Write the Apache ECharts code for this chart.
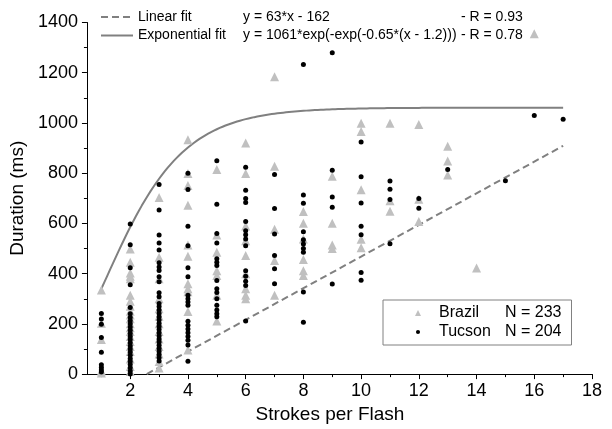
<!DOCTYPE html>
<html><head><meta charset="utf-8">
<script src="https://cdn.jsdelivr.net/npm/echarts@6/dist/echarts.min.js"></script>
<style>html,body{margin:0;padding:0;background:#fff}#c{width:612px;height:429px}</style>
</head><body><div id="c"></div>
<script>
// ---- data ----
const strokes = [1,2,3,4,5,6,7,8,9,10,11,12,13,14,15,16,17];
const brazilDur = [
  [335,202,138,12,4],
  [498,445,403,390,380,314,290,270,250,235,220,200,185,170,150,130,110,90,60,30,10],
  [703,465,380,300,260,230,200,170,140,110,80,50,24],
  [933,799,751,672,514,469,360,340,328,249,96],
  [815,554,485,412,393,314,211],
  [920,799,590,531,472,400,340,314,300],
  [1184,828,577,452,314],
  [647,601,538,456,412,393],
  [788,601,514,500],
  [999,966,734,537,503],
  [999,690,648],
  [994,696,608],
  [907,849,793],
  [422],
  [],
  [1355],
  []
];
const tucsonDur = [
  [241,219,198,146,87,37,26,16,8],
  [598,515,423,356,265,240,225,212,200,188,175,162,150,138,125,112,100,88,75,62,50,38,25,12,0],
  [755,653,554,522,494,443,426,413,388,368,324,308,281,269,255,241,228,215,202,190,178,165,152,140,128,115,102,90,78,65,52],
  [800,735,589,511,423,388,314,300,287,274,210,195,180,165,150,135,116,51],
  [850,676,560,522,459,445,432,373,340,325,300,274,255,240,228],
  [824,732,699,683,608,571,555,538,511,412,390,370,353,211],
  [795,659,558,472,419,360],
  [1233,713,680,567,535,518,500,485,327,206],
  [1280,812,705,664,359],
  [924,786,681,589,555,405,374],
  [769,736,695,519],
  [699,660],
  [815],
  [],
  [770],
  [1030],
  [1015]
];
const xTickLabels = [2,4,6,8,10,12,14,16,18];
const xMinorTicks = [1,3,5,7,9,11,13,15,17];
// fit parameters as printed on the chart
const linSlope = 63, linIntercept = -162, linR = 0.93;
const expA = 1061, expK = 0.65, expX0 = 1.2, expR = 0.78;
const fitXmax = 17;

// ---- build ----
function pairs(cols){const out=[];cols.forEach((c,i)=>c.forEach(v=>out.push([strokes[i],v])));return out;}
const brazilData = pairs(brazilDur);
const tucsonData = pairs(tucsonDur);
const linData = [[-linIntercept/linSlope,0],[fitXmax,linSlope*fitXmax+linIntercept]];
const expData = [];
for(let i=0;i<=160;i++){const x=1+i*0.1;expData.push([x,expA*Math.exp(-Math.exp(-expK*(x-expX0)))]);}

const FONT = "'Liberation Sans', Arial, sans-serif";
const smallDot = 'path://M0,0L0.001,0M10,10L10.001,10M8.4,5A3.4,3.4,0,1,1,1.6,5A3.4,3.4,0,1,1,8.4,5Z';
const chart = echarts.init(document.getElementById('c'), null, {renderer:'canvas'});
chart.setOption({
  animation:false,
  backgroundColor:'#fff',
  textStyle:{fontFamily:FONT},
  grid:{left:85,right:20,top:22.5,bottom:52.5},
  xAxis:[{
    type:'value',min:0.5,max:18,
    name:'Strokes per Flash',nameLocation:'middle',nameGap:25,
    nameTextStyle:{fontSize:19,color:'#000',fontFamily:FONT,padding:[0,19,0,0]},
    axisLine:{show:true,lineStyle:{color:'#000',width:1}},
    axisTick:{show:true,length:5,customValues:xTickLabels,lineStyle:{color:'#000'}},
    axisLabel:{customValues:xTickLabels,fontSize:18,color:'#000',margin:8,fontFamily:FONT},
    splitLine:{show:false}
  },{
    type:'value',min:0.5,max:18,position:'bottom',
    axisLine:{show:false},
    axisTick:{show:true,length:3,customValues:xMinorTicks,lineStyle:{color:'#000'}},
    axisLabel:{show:false},
    splitLine:{show:false}
  }],
  yAxis:{
    type:'value',min:0,max:1400,interval:200,
    name:'Duration (ms)',nameLocation:'middle',nameGap:57,
    nameTextStyle:{fontSize:19,color:'#000',fontFamily:FONT},
    axisLine:{show:true,lineStyle:{color:'#000',width:1}},
    axisTick:{show:true,length:5,lineStyle:{color:'#000'}},
    minorTick:{show:true,splitNumber:2,length:3,lineStyle:{color:'#000'}},
    axisLabel:{fontSize:18,color:'#000',margin:9,fontFamily:FONT,formatter:function(v){return String(v);}},
    splitLine:{show:false}
  },
  legend:[{
    data:['Linear fit','Exponential fit'],
    orient:'vertical',left:100,top:10,padding:0,
    itemWidth:32,itemHeight:14,itemGap:4.5,selectedMode:false,
    itemStyle:{opacity:0},
    textStyle:{fontSize:14,color:'#000',fontFamily:FONT,
      rich:{a:{width:105,fontSize:14,fontFamily:FONT},b:{width:218,fontSize:14,fontFamily:FONT},c:{fontSize:14,fontFamily:FONT}}},
    formatter:function(n){
      if(n==='Linear fit') return '{a|Linear fit}{b|y = '+linSlope+'*x - '+(-linIntercept)+'}{c|- R = '+linR.toFixed(2)+'}';
      return '{a|Exponential fit}{b|y = '+expA+'*exp(-exp(-'+expK+'*(x - '+expX0+')))}{c|- R = '+expR.toFixed(2)+'}';
    }
  },{
    data:[{name:'Brazil',icon:'triangle'},{name:'Tucson',icon:smallDot}],
    orient:'vertical',left:383,top:300,padding:[5,10,5,32],
    itemWidth:6,itemHeight:6,itemGap:3,selectedMode:false,
    borderColor:'#808080',borderWidth:1,
    textStyle:{fontSize:16,color:'#000',fontFamily:FONT,
      rich:{n:{width:66,padding:[0,0,0,13],fontSize:16,lineHeight:16,fontFamily:FONT},v:{fontSize:16,lineHeight:16,fontFamily:FONT}}},
    formatter:function(n){return '{n|'+n+'}{v|N = '+(n==='Brazil'?233:204)+'}';}
  }],
  series:[{
    name:'Linear fit',type:'line',data:linData,symbol:'none',z:1,
    lineStyle:{color:'#808080',width:2,type:[7,4]},itemStyle:{color:'#808080'}
  },{
    name:'Exponential fit',type:'line',data:expData,symbol:'none',z:1,
    lineStyle:{color:'#808080',width:2},itemStyle:{color:'#808080'}
  },{
    name:'Brazil',type:'scatter',data:brazilData,symbol:'triangle',symbolSize:9,z:2,
    itemStyle:{color:'#c0c0c0',opacity:1}
  },{
    name:'Tucson',type:'scatter',data:tucsonData,symbol:'circle',symbolSize:5,z:3,
    itemStyle:{color:'#000',opacity:1}
  }]
});
</script></body></html>
